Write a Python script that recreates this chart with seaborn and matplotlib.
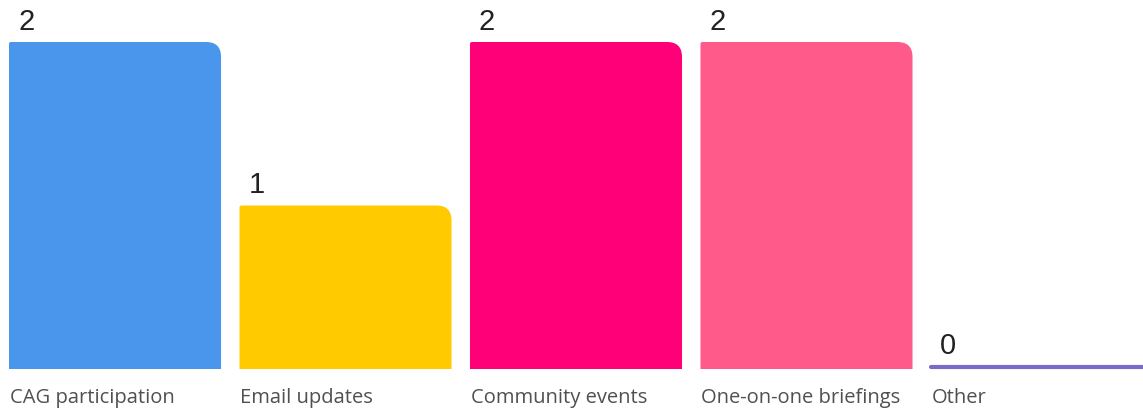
import matplotlib
matplotlib.use("Agg")
import matplotlib.pyplot as plt
import seaborn as sns
import pandas as pd
from matplotlib.path import Path
from matplotlib.patches import PathPatch
from matplotlib.transforms import offset_copy

categories = ["CAG participation", "Email updates", "Community events",
              "One-on-one briefings", "Other"]
values = [2, 1, 2, 2, 0]
colors = ["#4A96EC", "#FFCA00", "#FF0078", "#FF5A8A", "#7C6ACB"]

sns.set_theme(style="white")
plt.rcParams["font.family"] = ["Open Sans", "DejaVu Sans"]

W, H, DPI = 1143, 414, 100
fig = plt.figure(figsize=(W / DPI, H / DPI), dpi=DPI)
ax = fig.add_axes([9 / W, 44 / H, 1134 / W, 327 / H])

df = pd.DataFrame({"category": categories, "value": values})
sns.barplot(data=df, x="category", y="value", hue="category",
            palette=colors, width=0.92, legend=False, ax=ax,
            saturation=1)

ax.set_xlim(-0.46, 4.46)
ax.set_ylim(0, 2)
ax.axis("off")

# pixel -> data scale factors for corner rounding
px_x = 4.92 / 1134
px_y = 2 / 327
r_big, r_small = 15, 2

bars = list(ax.patches)
for patch, cat, val, col in zip(bars, categories, values, colors):
    x0 = patch.get_x()
    x1 = x0 + patch.get_width()
    if val > 0:
        y1 = patch.get_height()
        rx, ry = r_big * px_x, r_big * px_y
        sx, sy = r_small * px_x, r_small * px_y
        verts = [(x0, 0), (x1, 0), (x1, y1 - ry),
                 (x1, y1), (x1 - rx, y1),
                 (x0 + sx, y1), (x0, y1), (x0, y1 - sy),
                 (x0, 0)]
        codes = [Path.MOVETO, Path.LINETO, Path.LINETO,
                 Path.CURVE3, Path.CURVE3,
                 Path.LINETO, Path.CURVE3, Path.CURVE3,
                 Path.CLOSEPOLY]
        ax.add_patch(PathPatch(Path(verts, codes), facecolor=col,
                               edgecolor="none", zorder=2))
    else:
        # zero-valued bar shown as a thin rule on the baseline
        tr = offset_copy(ax.transData, fig=fig, x=0, y=2, units="dots")
        ax.plot([x0, x1], [0, 0], color=col, lw=3.0,
                solid_capstyle="round", transform=tr, clip_on=False,
                zorder=3)
    patch.set_visible(False)

    # value label above the bar
    ax.annotate(f"{val}", xy=(x0, val), xytext=(9, 7 if val > 0 else 10),
                textcoords="offset pixels", ha="left", va="bottom",
                fontsize=21, color="#222222", family="Liberation Sans",
                annotation_clip=False)

    # category label below the bar
    ax.annotate(cat, xy=(x0, 0), xytext=(1, -18), textcoords="offset pixels",
                ha="left", va="top", fontsize=14.5, color="#505050",
                annotation_clip=False)

fig.savefig("out.png", dpi=DPI)
